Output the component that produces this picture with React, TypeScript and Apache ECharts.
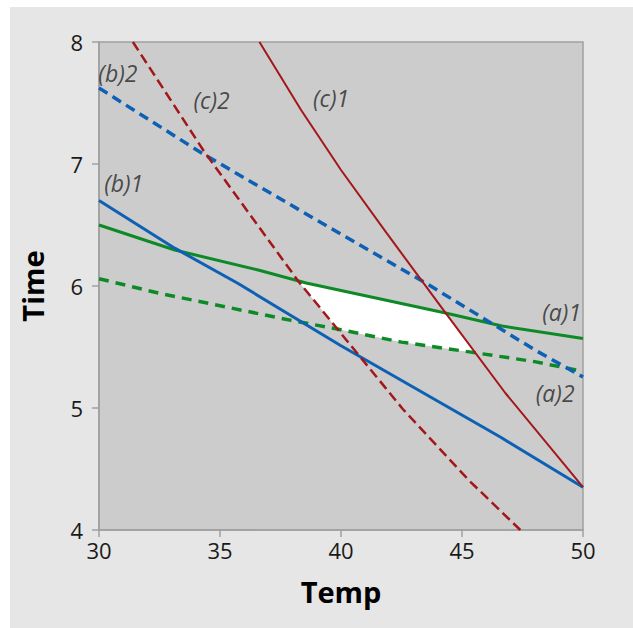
import React, { useEffect, useRef } from "react";
import * as echarts from "echarts";

type Pt = [number, number];

// Contour lines: [Temp, Time]
const curveA1: Pt[] = [[30, 6.5], [33.13, 6.295], [36.58, 6.131], [38.56, 6.025], [44.32, 5.779], [46.65, 5.672], [50, 5.57]];
const curveA2: Pt[] = [[30, 6.06], [32.5, 5.94], [35.2, 5.83], [37.9, 5.72], [39.9, 5.645], [42.5, 5.54], [45.3, 5.46], [48, 5.38], [50, 5.3]];
const curveB1: Pt[] = [[30, 6.7], [33.13, 6.31], [35.75, 6.02], [40, 5.51], [46.6, 4.76], [50, 4.35]];
const curveB2: Pt[] = [[30, 7.623], [34.24, 7.09], [39.92, 6.434], [43.5, 6.025], [48.02, 5.475], [50, 5.254]];
const curveC1: Pt[] = [[36.63, 8.0], [38.35, 7.443], [40.0, 6.951], [41.85, 6.443], [44.32, 5.779], [46.79, 5.123], [50, 4.352]];
const curveC2: Pt[] = [[31.4, 8.0], [34.36, 7.098], [38.23, 6.041], [42.55, 4.992], [45.27, 4.41], [47.41, 4.0]];

const labelNames = ["(a)1", "(a)2", "(b)1", "(b)2", "(c)1", "(c)2"];
const labelPos: Pt[] = [[49.12, 5.79], [48.85, 5.127], [31.02, 6.842], [30.78, 7.743], [39.59, 7.539], [34.65, 7.525]];

const GREEN = "#0d8a26";
const BLUE = "#0e60b4";
const RED = "#a3171a";

function interp(c: Pt[], x: number, outside: number): number {
  if (x < c[0][0] || x > c[c.length - 1][0]) return outside;
  for (let i = 1; i < c.length; i++) {
    if (x <= c[i][0]) {
      const [x0, y0] = c[i - 1];
      const [x1, y1] = c[i];
      return y0 + ((x - x0) / (x1 - x0)) * (y1 - y0);
    }
  }
  return outside;
}

export default function App() {
  const ref = useRef<HTMLDivElement>(null);
  useEffect(() => {
    if (!ref.current) return;
    const chart = echarts.init(ref.current, undefined, { renderer: "svg" });
    const font = "'Open Sans', 'Noto Sans', sans-serif";
    const axisColor = "#a0a0a0";
    const lineSeries = (name: string, data: Pt[], color: string, width: number, dashed: number[] | null) => ({
      type: "line",
      name,
      data,
      showSymbol: false,
      symbol: "none",
      z: 3,
      lineStyle: { color, width, type: dashed ? dashed : "solid", cap: "butt", join: "round" },
    });
    chart.setOption({
      animation: false,
      backgroundColor: "transparent",
      textStyle: { fontFamily: font },
      grid: {
        left: 87, right: 50, top: 35, bottom: 98,
        show: true, backgroundColor: "#cccccc", borderColor: axisColor, borderWidth: 1.5,
      },
      xAxis: {
        type: "value", min: 30, max: 50, interval: 5,
        name: "Temp", nameLocation: "middle", nameGap: 47,
        nameTextStyle: { fontSize: 29, fontWeight: "bold", color: "#000", fontFamily: font },
        axisLine: { show: true, lineStyle: { color: axisColor, width: 1.5 } },
        axisTick: { show: true, length: 7, lineStyle: { color: axisColor, width: 1.5 } },
        axisLabel: { fontSize: 22, color: "#1a1a1a", margin: 9, fontFamily: font },
        splitLine: { show: false },
      },
      yAxis: {
        type: "value", min: 4, max: 8, interval: 1,
        name: "Time", nameLocation: "middle", nameGap: 52,
        nameTextStyle: { fontSize: 29, fontWeight: "bold", color: "#000", fontFamily: font },
        axisLine: { show: true, lineStyle: { color: axisColor, width: 1.5 } },
        axisTick: { show: true, length: 7, lineStyle: { color: axisColor, width: 1.5 } },
        axisLabel: { fontSize: 22, color: "#1a1a1a", margin: 16, fontFamily: font },
        splitLine: { show: false },
      },
      series: [
        {
          type: "custom",
          coordinateSystem: "cartesian2d",
          z: 1,
          silent: true,
          data: [[40, 5.8]],
          renderItem: (_params: any, api: any) => {
            const upper: number[][] = [];
            const lower: number[][] = [];
            for (let x = 36; x <= 48; x += 0.02) {
              const up = Math.min(interp(curveA1, x, Infinity), interp(curveC1, x, Infinity), interp(curveB2, x, Infinity));
              const lo = Math.max(interp(curveA2, x, -Infinity), interp(curveC2, x, -Infinity), interp(curveB1, x, -Infinity));
              if (up > lo) {
                upper.push(api.coord([x, up]));
                lower.push(api.coord([x, lo]));
              }
            }
            const points = upper.concat(lower.reverse());
            return { type: "polygon", shape: { points }, style: { fill: "#ffffff" } };
          },
        },
        lineSeries("(a)1", curveA1, GREEN, 3, null),
        lineSeries("(a)2", curveA2, GREEN, 3.5, [10, 7]),
        lineSeries("(b)1", curveB1, BLUE, 3, null),
        lineSeries("(b)2", curveB2, BLUE, 3.5, [10, 6]),
        lineSeries("(c)1", curveC1, RED, 2, null),
        lineSeries("(c)2", curveC2, RED, 2.5, [10, 5]),
        {
          type: "scatter",
          z: 5,
          symbolSize: 0,
          silent: true,
          data: labelNames.map((n, i) => ({ name: n, value: labelPos[i] })),
          label: {
            show: true, position: "inside", formatter: "{b}",
            fontSize: 23, fontStyle: "italic", color: "#262626", fontFamily: font,
          },
        },
      ],
    });
    return () => chart.dispose();
  }, []);
  return (
    <div style={{ position: "absolute", left: 0, top: 0, width: 633, height: 628, background: "#ffffff" }}>
      <div
        ref={ref}
        style={{ position: "absolute", left: 10, top: 7, width: 623, height: 621, background: "#e6e6e6" }}
      />
    </div>
  );
}
